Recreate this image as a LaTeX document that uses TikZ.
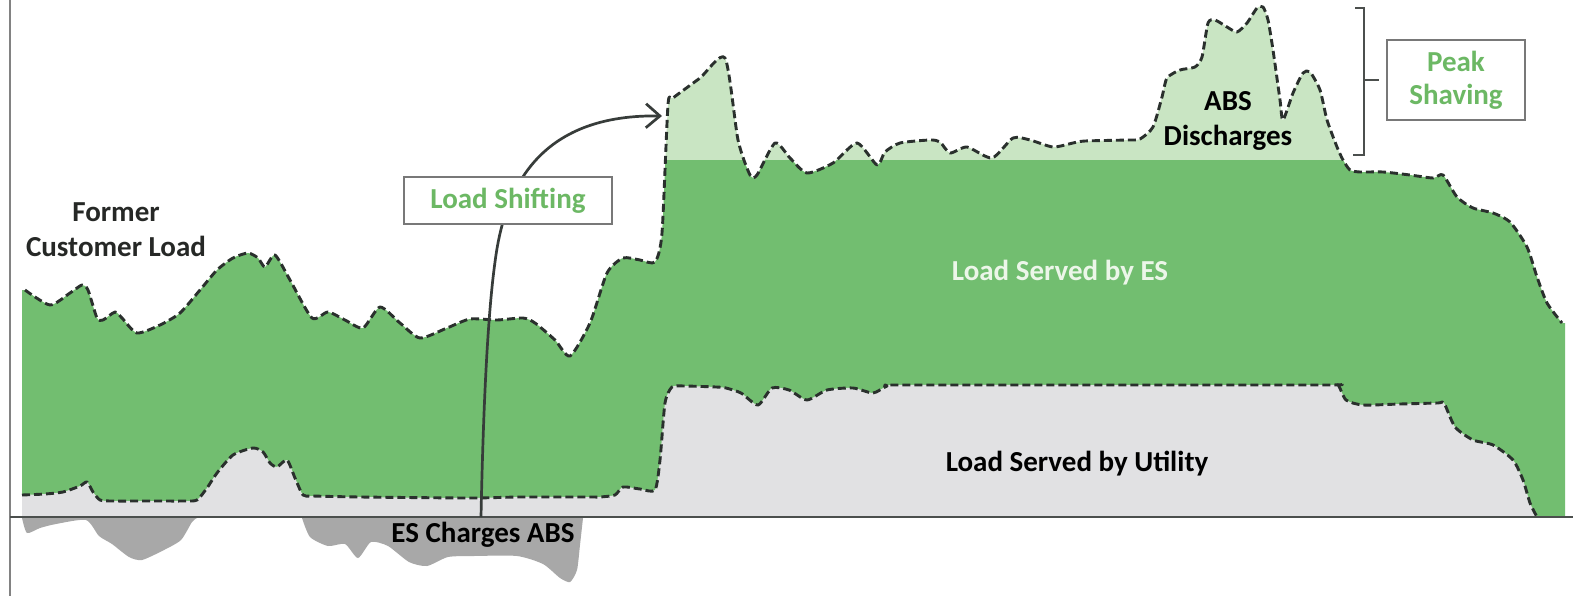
\documentclass[tikz,border=0pt]{standalone}
\usepackage{fontspec}
\setmainfont{Carlito}
\usetikzlibrary{arrows.meta}

\definecolor{esgreen}{RGB}{114,190,112}
\definecolor{peakgreen}{RGB}{201,229,195}
\definecolor{utilgrey}{RGB}{225,225,227}
\definecolor{chargegrey}{RGB}{168,168,168}
\definecolor{curveline}{RGB}{42,48,45}
\definecolor{labelgreen}{RGB}{108,184,100}
\definecolor{boxline}{RGB}{120,120,120}
\definecolor{axisdark}{RGB}{75,79,77}
\definecolor{arrowdark}{RGB}{55,60,58}
\definecolor{axislight}{RGB}{130,130,130}
\definecolor{textdark}{RGB}{38,40,38}
\definecolor{esfont}{RGB}{236,246,233}

% customer load before storage (upper) and load left to the utility (lower)
\def\upperpts{(25,290) (50,305) (70,293) (82,285) (88,290) (97,318) (103,320) (115,312) (122,318) (137,333) (160,325) (180,313) (200,290) (217,270) (233,258) (248,253) (258,258) (265,267) (275,255) (290,280) (312,318) (328,312) (345,320) (363,328) (380,307) (400,323) (420,338) (447,328) (470,319) (497,320) (523,318) (535,323) (555,340) (570,356) (590,323) (607,273) (623,258) (640,260) (655,262) (662,233) (668,105) (673,98) (700,78) (725,58) (738,140) (750,175) (757,175) (775,143) (790,158) (807,173) (833,163) (857,143) (877,165) (885,152) (900,143) (930,140) (940,142) (950,153) (967,147) (992,158) (1013,138) (1030,140) (1053,147) (1073,143) (1085,141) (1128,140) (1140,139) (1153,127) (1162,97) (1167,78) (1180,70) (1195,67) (1202,57) (1208,23) (1215,20) (1227,27) (1237,32) (1247,23) (1257,8) (1263,7) (1268,20) (1273,50) (1280,100) (1283,120) (1293,93) (1303,73) (1310,72) (1320,90) (1327,120) (1337,147) (1343,160) (1350,170) (1360,172) (1383,172) (1410,175) (1433,178) (1443,175) (1457,197) (1473,208) (1493,213) (1510,222) (1527,247) (1537,277) (1547,303) (1562,323)}
\def\lowerpts{(22,495) (45,494) (63,492) (80,486) (87,482) (93,492) (100,500) (112,501) (150,501) (185,501) (197,500) (207,488) (217,473) (233,455) (253,448) (263,452) (270,463) (277,467) (287,460) (295,478) (303,495) (313,496) (360,497) (470,498) (520,497) (590,497) (600,497) (615,495) (623,487) (640,489) (655,490) (660,460) (665,403) (672,387) (684,386) (716,387) (726,388) (741,393) (758,405) (772,388) (789,390) (807,400) (827,390) (853,388) (873,393) (887,386) (898,385) (1100,385) (1328,385) (1338,385) (1346,400) (1363,405) (1400,404) (1438,403) (1444,403) (1455,427) (1473,440) (1493,445) (1513,460) (1523,480) (1530,503) (1537,517)}

% hand a stored point list to a one-argument drawing command
\def\usepoints#1#2{\expandafter#2\expandafter{#1}}
\def\fillesshare#1{\fill[esgreen] (22,517) -- (22,290) -- plot[smooth,tension=0.4] coordinates {#1} -- (1565,323) -- (1565,517) -- cycle;}
\def\fillpeakshare#1{\fill[peakgreen] (22,517) -- (22,290) -- plot[smooth,tension=0.4] coordinates {#1} -- (1565,323) -- (1565,517) -- cycle;}
\def\fillutilshare#1{\fill[utilgrey] (22,517) -- plot[smooth,tension=0.4] coordinates {#1} -- cycle;}
\def\drawloadcurve#1{\draw[loadcurve] plot[smooth,tension=0.4] coordinates {#1};}

\begin{document}
\begin{tikzpicture}[x=1pt,y=-1pt,
  lbl/.style={font=\fontsize{29}{35}\selectfont\bfseries, inner sep=0pt, align=center, text=textdark},
  loadcurve/.style={draw=curveline, line width=2.9pt, dash pattern=on 8pt off 4pt, line join=round},
  labelbox/.style={draw=boxline, line width=1.7pt, fill=white, inner sep=0pt, align=center,
    font=\fontsize{29}{33}\selectfont\bfseries, text=labelgreen},
  shiftarrow/.style={draw=arrowdark, line width=2.7pt, -{Straight Barb[length=14pt,width=24pt,line width=2.7pt]}},
  bracketline/.style={draw=axisdark, line width=2.2pt}]

\useasboundingbox (0,0) rectangle (1573,596);
\fill[white] (0,0) rectangle (1573,596);

% energy storage share (dark) and shaved peaks (light)
\begin{scope}
  \clip (0,160) rectangle (1573,596);
  \usepoints\upperpts\fillesshare
\end{scope}
\begin{scope}
  \clip (0,0) rectangle (1573,160);
  \usepoints\upperpts\fillpeakshare
\end{scope}

% utility share
\usepoints\lowerpts\fillutilshare

% charging of the storage below the axis
\fill[chargegrey] plot[smooth,tension=0.4] coordinates {(22,518) (27,533) (40,528) (56,524) (86,520) (99,536) (112,544) (129,557) (142,560) (164,550) (181,540) (192,522) (197,518)} -- cycle;
\fill[chargegrey] plot[smooth,tension=0.4] coordinates {(302,518) (310,537) (328,546) (345,544) (358,558) (371,542) (388,546) (409,562) (427,566) (448,557) (474,556) (517,556) (543,564) (560,578) (570,582) (577,570) (580,545) (583,518)} -- cycle;

% load curves
\usepoints\upperpts\drawloadcurve
\usepoints\lowerpts\drawloadcurve

% axes
\draw[axislight, line width=2.2pt] (10,0) -- (10,596);
\draw[axisdark, line width=2.6pt] (10,517) -- (1573,517);

% load shifting arrow
\coordinate (shiftfrom) at (481,517);
\coordinate (shiftto) at (662,116);
\draw[shiftarrow] (shiftfrom) .. controls (483,420) and (487,320) .. (495,262)
  .. controls (503,200) and (530,114) .. (shiftto);

\node[labelbox, minimum width=208pt, minimum height=47pt] (shiftbox) at (508,200.5) {Load Shifting};

% bracket over the shaved peak
\node[labelbox, minimum width=138pt, minimum height=80pt] (peakbox) at (1456,80) {Peak\\Shaving};
\coordinate (brtop) at (1355,8);
\coordinate (brbot) at (1353,155);
\coordinate (brmid) at (1364,80);
\draw[bracketline] (brtop) -- (1364,8) -- (1364,155) -- (brbot);
\draw[bracketline] (brmid) -- ([xshift=-7pt]peakbox.west);

% labels
\node[lbl] (former) at (116,230) {Former\\Customer Load};
\node[lbl, text=black] (charges) at (483,535) {ES Charges ABS};
\node[lbl, text=esfont] (esload) at (1060,273) {Load Served by ES};
\node[lbl, text=black] (utilload) at (1077,464) {Load Served by Utility};
\node[lbl, text=black] (discharge) at (1228,121) {ABS\\Discharges};
\end{tikzpicture}
\end{document}
